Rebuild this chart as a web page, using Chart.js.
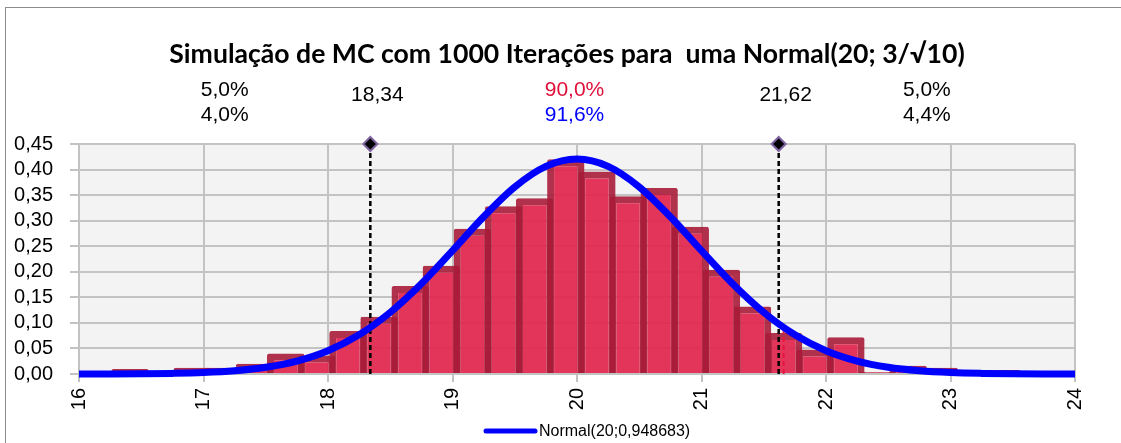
<!DOCTYPE html>
<html>
<head>
<meta charset="utf-8">
<script src="https://cdn.jsdelivr.net/npm/chart.js@4.4.1/dist/chart.umd.min.js"></script>
<style>
  html, body { margin: 0; padding: 0; background: #fff; }
  #wrap { width: 1121px; height: 443px; }
</style>
</head>
<body>
<div id="wrap"><canvas id="mc" width="1121" height="443"></canvas></div>
<script>
// === DATA ===
// histogram: bin centres (width 0.25) and density of the 1000 simulated values
const binCenters = [16.16, 16.41, 16.66, 16.91, 17.16, 17.41, 17.66, 17.91, 18.16, 18.41, 18.66,
                    18.91, 19.16, 19.41, 19.66, 19.91, 20.16, 20.41, 20.66, 20.91, 21.16, 21.41,
                    21.66, 21.91, 22.16, 22.41, 22.66, 22.91, 23.16, 23.41, 23.66, 23.91];
const binDensity = [0, 0.01, 0, 0.012, 0.012, 0.02, 0.04, 0.036, 0.084, 0.112, 0.172,
                    0.212, 0.284, 0.328, 0.344, 0.42, 0.396, 0.348, 0.364, 0.288, 0.204, 0.132,
                    0.08, 0.048, 0.072, 0.004, 0.016, 0.012, 0, 0.008, 0, 0];

// theoretical curve Normal(20; 0,948683)
const curveX = [16, 16.25, 16.5, 16.75, 17, 17.25, 17.5, 17.75, 18, 18.25, 18.5, 18.75, 19, 19.25,
                19.5, 19.75, 20, 20.25, 20.5, 20.75, 21, 21.25, 21.5, 21.75, 22, 22.25, 22.5,
                22.75, 23, 23.25, 23.5, 23.75, 24];
const curveY = [0.0001, 0.0002, 0.0005, 0.0012, 0.0028, 0.0063, 0.0131, 0.0253, 0.0456, 0.0767,
                0.1205, 0.1765, 0.2413, 0.3077, 0.366, 0.4062, 0.4205, 0.4062, 0.366, 0.3077,
                0.2413, 0.1765, 0.1205, 0.0767, 0.0456, 0.0253, 0.0131, 0.0063, 0.0028, 0.0012,
                0.0005, 0.0002, 0.0001];

// 5% / 95% quantiles of the normal and the simulated upper one
const quantiles = [18.34, 21.62];
const quantileLabels = ['18,34', '21,62'];
const simQuantile = 21.66;
const simQuantileTop = 0.085;

// probabilities of the three regions: theory (top row) and simulation (bottom row)
const probTheory = ['5,0%', '90,0%', '5,0%'];
const probSim = ['4,0%', '91,6%', '4,4%'];

const xMin = 16, xMax = 24;
const yMax = 0.45, yStep = 0.05;

const titleText = 'Simulação de MC com 1000 Iterações para  uma Normal(20; 3/\u221A10)';
const legendText = 'Normal(20;0,948683)';

// === STYLE ===
const BLUE = '#0000ff';
const GRID = '#c3c3c3';
const TICK_FONT = { family: 'Liberation Sans, Arial, sans-serif', size: 20 };

// === PLUGINS ===
const frame = {
    id: 'frame',
    beforeDraw(chart) {
        const { ctx, chartArea: a } = chart;
        ctx.save();
        ctx.fillStyle = '#fff';
        ctx.fillRect(0, 0, chart.width, chart.height);
        ctx.strokeStyle = '#8c8c8c';
        ctx.lineWidth = 1;
        ctx.strokeRect(5.5, 7.5, chart.width + 20, chart.height + 20);
        ctx.fillStyle = '#f3f3f3';
        ctx.fillRect(a.left, a.top, a.right - a.left, a.bottom - a.top);
        ctx.restore();
    }
};

const texts = {
    id: 'texts',
    afterDraw(chart) {
        const { ctx } = chart;
        const x = chart.scales.x;
        ctx.save();
        // title
        ctx.fillStyle = '#000';
        ctx.textAlign = 'center';
        ctx.textBaseline = 'alphabetic';
        ctx.font = 'bold 26.6px Lato, "Open Sans", sans-serif';
        ctx.fillText(titleText, 567, 63);

        // region probabilities
        const mids = [(xMin + quantiles[0]) / 2, (quantiles[0] + quantiles[1]) / 2, (quantiles[1] + xMax) / 2];
        ctx.font = '21px "Liberation Sans", Arial, sans-serif';
        mids.forEach((m, i) => {
            const px = x.getPixelForValue(m);
            ctx.fillStyle = i === 1 ? '#e0103a' : '#000';
            ctx.fillText(probTheory[i], px, 96);
            ctx.fillStyle = i === 1 ? BLUE : '#000';
            ctx.fillText(probSim[i], px, 121);
        });
        // quantile values
        ctx.fillStyle = '#000';
        quantiles.forEach((q, i) => {
            ctx.fillText(quantileLabels[i], x.getPixelForValue(q) + 7, 101);
        });

        // legend
        ctx.strokeStyle = BLUE;
        ctx.lineWidth = 5;
        ctx.lineCap = 'round';
        ctx.beginPath();
        ctx.moveTo(486, 431);
        ctx.lineTo(535, 431);
        ctx.stroke();
        ctx.fillStyle = '#000';
        ctx.textAlign = 'left';
        ctx.textBaseline = 'middle';
        ctx.font = '16px "Liberation Sans", Arial, sans-serif';
        ctx.fillText(legendText, 539, 432);
        ctx.restore();
    }
};

// === CHART ===
const quantileLine = q => ({
    type: 'line',
    data: [{ x: q, y: 0 }, { x: q, y: yMax }],
    borderColor: '#000',
    borderWidth: 2.5,
    borderDash: [5, 3],
    pointRadius: [0, 7],
    pointStyle: 'rectRot',
    pointBackgroundColor: '#000',
    pointBorderColor: '#8064a2',
    pointBorderWidth: 2,
    clip: false,
    order: 1
});

new Chart(document.getElementById('mc'), {
    type: 'bar',
    data: {
        datasets: [
            {
                type: 'line',
                label: legendText,
                data: curveX.map((v, i) => ({ x: v, y: curveY[i] })),
                borderColor: BLUE,
                borderWidth: 7,
                borderCapStyle: 'butt',
                pointRadius: 0,
                cubicInterpolationMode: 'monotone',
                clip: false,
                order: 0
            },
            quantileLine(quantiles[0]),
            quantileLine(quantiles[1]),
            {
                type: 'line',
                data: [{ x: simQuantile, y: 0 }, { x: simQuantile, y: simQuantileTop }],
                borderColor: '#e8163f',
                borderWidth: 2,
                borderDash: [5, 3],
                pointRadius: 0,
                order: 1.5
            },
            {
                type: 'bar',
                label: 'Simulação',
                data: binCenters.map((v, i) => ({ x: v, y: binDensity[i] })),
                backgroundColor: 'rgba(226, 42, 80, 0.95)',
                borderColor: 'rgba(168, 28, 58, 0.9)',
                borderWidth: 7,
                borderRadius: 2,
                barPercentage: 1.2,
                categoryPercentage: 1,
                order: 2
            }
        ]
    },
    options: {
        responsive: false,
        devicePixelRatio: 1,
        animation: false,
        events: [],
        layout: { padding: { left: 0, right: 46, top: 144, bottom: 0 } },
        plugins: {
            legend: { display: false },
            title: { display: false },
            tooltip: { enabled: false }
        },
        scales: {
            x: {
                type: 'linear',
                min: xMin,
                max: xMax,
                offset: false,
                afterFit: s => { s.height = 69; },
                ticks: {
                    stepSize: 1,
                    autoSkip: false,
                    minRotation: 90,
                    maxRotation: 90,
                    padding: 6,
                    color: '#000',
                    font: TICK_FONT
                },
                grid: { color: GRID, lineWidth: 2, tickLength: 8, offset: false },
                border: { color: GRID, width: 2 }
            },
            y: {
                min: 0,
                max: yMax,
                afterFit: s => { s.width = 79; },
                ticks: {
                    stepSize: yStep,
                    autoSkip: false,
                    padding: 17,
                    color: '#000',
                    font: TICK_FONT,
                    callback: v => v.toFixed(2).replace('.', ',')
                },
                grid: { color: GRID, lineWidth: 2, tickLength: 9 },
                border: { color: GRID, width: 2 }
            }
        }
    },
    plugins: [frame, texts]
});
</script>
</body>
</html>
